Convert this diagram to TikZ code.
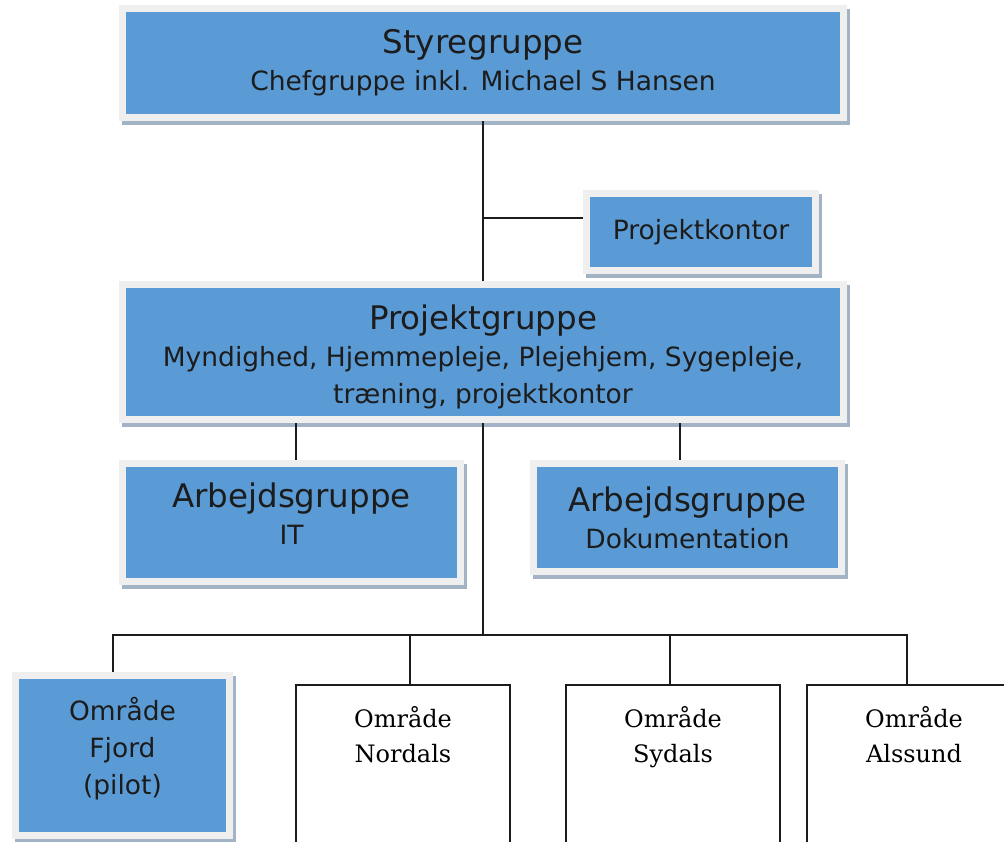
\documentclass[tikz,border=0pt]{standalone}
\usepackage{fontspec}
\newfontfamily\boxfont{DejaVu Sans}
\newfontfamily\areafont{DejaVu Serif}
\definecolor{boxblue}{HTML}{5B9BD5}
\definecolor{framegrey}{HTML}{EFEFEF}
\definecolor{shadowgrey}{HTML}{A3B3C6}
\definecolor{inkdark}{HTML}{1C1C1C}
\newcommand{\grouptitle}[1]{{\fontsize{32.5}{37}\selectfont #1}}
\newcommand{\lowpad}[1]{\rule[-#1]{0pt}{#1}}
\newcommand{\toppad}[1]{\rule{0pt}{#1}}
\newcommand{\areaname}[1]{\parbox[t][180pt][t]{200pt}{\centering #1}}
\begin{document}
\begin{tikzpicture}[x=1pt, y=1pt,
    bluebox/.style={fill=boxblue, draw=framegrey, line width=7pt,
      preaction={fill=shadowgrey, draw=shadowgrey, line width=7pt,
        transform canvas={shift={(3pt,-4pt)}}},
      text=inkdark, font=\boxfont\fontsize{26.5}{37}\selectfont,
      align=center, inner sep=0pt},
    areabox/.style={draw=inkdark, line width=2pt, fill=white, anchor=north,
      inner xsep=7pt, inner ysep=21pt, text=black,
      font=\areafont\fontsize{24}{35}\selectfont},
    link/.style={draw=inkdark, line width=2pt}]
\clip (0,0) rectangle (1004,-841);
\fill[white] (0,0) rectangle (1004,-841);

\node[bluebox, minimum width=721pt, minimum height=109pt] (styre) at (483,-63)
  {\grouptitle{Styregruppe}\\Chefgruppe inkl. Michael S Hansen};
\node[bluebox, minimum width=229pt, minimum height=77pt] (kontor) at (701,-232)
  {Projektkontor};
\node[bluebox, minimum width=721pt, minimum height=135pt] (pgruppe) at (483,-352)
  {\toppad{35pt}\grouptitle{Projektgruppe}\\Myndighed, Hjemmepleje, Plejehjem, Sygepleje,\\tr\ae ning, projektkontor};
\node[bluebox, minimum width=338pt, minimum height=118pt] (agit) at (291.5,-522.5)
  {\grouptitle{Arbejdsgruppe}\\IT\lowpad{18pt}};
\node[bluebox, minimum width=308pt, minimum height=108pt] (agdok) at (687.5,-517.5)
  {\grouptitle{Arbejdsgruppe}\\Dokumentation};
\node[bluebox, minimum width=214pt, minimum height=160pt] (fjord) at (122.5,-755.5)
  {Område\\Fjord\\(pilot)\lowpad{20pt}};

\node[areabox] (nordals) at (403,-684) {\areaname{Område\\Nordals}};
\node[areabox] (sydals) at (673,-684) {\areaname{Område\\Sydals}};
\node[areabox] (alssund) at (914,-684) {\areaname{Område\\Alssund}};

\coordinate (kbranch) at (483,-218);
\coordinate (bus) at (486,-635);

\draw[link] (styre.south) -- (pgruppe.north);
\draw[link] (kbranch) -- (kbranch -| kontor.west);
\draw[link] ([xshift=4.5pt]agit.north) -- ([xshift=4.5pt]agit.north |- pgruppe.south);
\draw[link] ([xshift=-7.5pt]agdok.north) -- ([xshift=-7.5pt]agdok.north |- pgruppe.south);
\draw[link] (pgruppe.south) -- (pgruppe.south |- bus);
\draw[link] ([xshift=-9.5pt]fjord.north) |- (bus) -| ([xshift=-7pt]alssund.north);
\foreach \area/\dx in {nordals/7, sydals/-3}
  \draw[link] ([xshift=\dx pt]\area.north) -- ([xshift=\dx pt]\area.north |- bus);
\end{tikzpicture}
\end{document}
